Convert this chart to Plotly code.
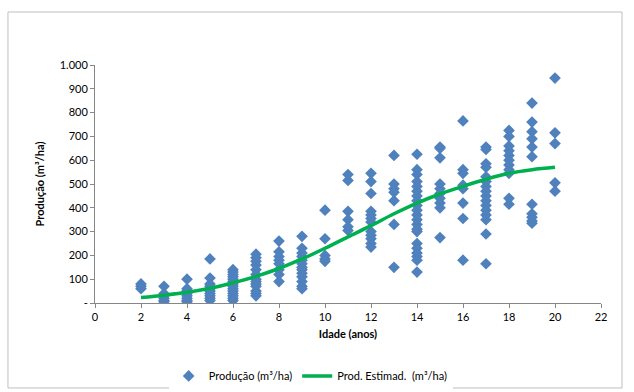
import plotly.graph_objects as go

obs = {
    2: [60, 70, 80],
    3: [70, 40, 30, 20, 10, 5],
    4: [100, 60, 50, 40, 30, 20, 10, 5],
    5: [185, 105, 80, 70, 60, 50, 40, 30, 20, 10],
    6: [140, 130, 120, 110, 100, 90, 80, 70, 60, 50, 40, 30, 20, 10],
    7: [205, 190, 175, 160, 140, 120, 100, 90, 80, 70, 50, 40, 30],
    8: [260, 215, 195, 180, 165, 140, 120, 90],
    9: [280, 230, 210, 195, 180, 165, 150, 140, 125, 110, 90, 70, 60],
    10: [390, 270, 200, 185, 175],
    11: [540, 515, 385, 350, 320, 305],
    12: [545, 510, 460, 385, 370, 355, 340, 300, 285, 270, 250, 235],
    13: [620, 500, 480, 465, 430, 330, 150],
    14: [625, 560, 540, 510, 490, 470, 450, 430, 410, 390, 370, 350, 330, 310,
         300, 250, 230, 210, 195, 180, 130],
    15: [655, 650, 610, 500, 480, 460, 440, 420, 400, 275],
    16: [765, 560, 545, 495, 480, 420, 355, 180],
    17: [655, 645, 585, 570, 530, 510, 490, 470, 450, 430, 410, 390, 370, 350, 290, 165],
    18: [725, 700, 660, 640, 620, 600, 580, 560, 545, 440, 415],
    19: [840, 760, 720, 690, 655, 615, 415, 375, 360, 345, 335],
    20: [945, 715, 670, 505, 470],
}
ages = [a for a, vals in obs.items() for _ in vals]
producao = [v for vals in obs.values() for v in vals]

# Estimated production curve
est_age = [2, 3, 4, 5, 6, 7, 8, 9, 10, 11, 12, 13, 14, 15, 16, 17, 18, 19, 20]
est_prod = [23, 33, 45, 62, 85, 112, 145, 185, 230, 278, 325, 375, 420, 458,
            490, 520, 545, 560, 570]

y_ticks = [0, 100, 200, 300, 400, 500, 600, 700, 800, 900, 1000]
y_labels = ["-", "100", "200", "300", "400", "500", "600", "700", "800", "900", "1.000"]
x_ticks = [0, 2, 4, 6, 8, 10, 12, 14, 16, 18, 20, 22]

FONT = "Lato, 'Open Sans', sans-serif"

fig = go.Figure()
fig.add_trace(go.Scatter(
    x=ages, y=producao, mode="markers", name="Produção (m³/ha)",
    marker=dict(symbol="diamond", size=9, color="#4F81BD",
                line=dict(width=0)),
))
fig.add_trace(go.Scatter(
    x=est_age, y=est_prod, mode="lines", name="Prod. Estimad.  (m³/ha)",
    line=dict(color="#00B050", width=3.5, shape="spline"),
))

fig.update_layout(
    width=634, height=392,
    margin=dict(l=95, r=33, t=65, b=89, autoexpand=False),
    paper_bgcolor="white", plot_bgcolor="white",
    font=dict(family=FONT, size=11, color="#000000"),
    showlegend=True,
    legend=dict(orientation="h", xref="container", yref="container",
                x=0.49, y=0.041, xanchor="center", yanchor="middle",
                font=dict(size=11), itemwidth=30, traceorder="normal"),
    xaxis=dict(
        range=[0, 22], tickvals=x_ticks, ticktext=[str(t) for t in x_ticks],
        showgrid=False, zeroline=False, showline=True, linecolor="#868686",
        linewidth=1, ticks="outside", ticklen=4, tickcolor="#868686",
        title=dict(text="<b>Idade (anos)</b>", font=dict(size=11), standoff=8),
    ),
    yaxis=dict(
        range=[0, 1000], tickvals=y_ticks, ticktext=y_labels,
        showgrid=False, zeroline=False, showline=True, linecolor="#868686",
        linewidth=1, ticks="outside", ticklen=4, tickcolor="#868686",
        title=dict(text="<b>Produção (m³/ha)</b>", font=dict(size=11), standoff=12),
    ),
)

# Outer chart frame
fig.add_shape(type="rect", xref="paper", yref="paper",
              x0=-0.172, x1=1.0415, y0=-0.357, y1=1.2227,
              line=dict(color="#BFBFBF", width=1), fillcolor="rgba(0,0,0,0)",
              layer="below")

fig.write_html("out.html")
